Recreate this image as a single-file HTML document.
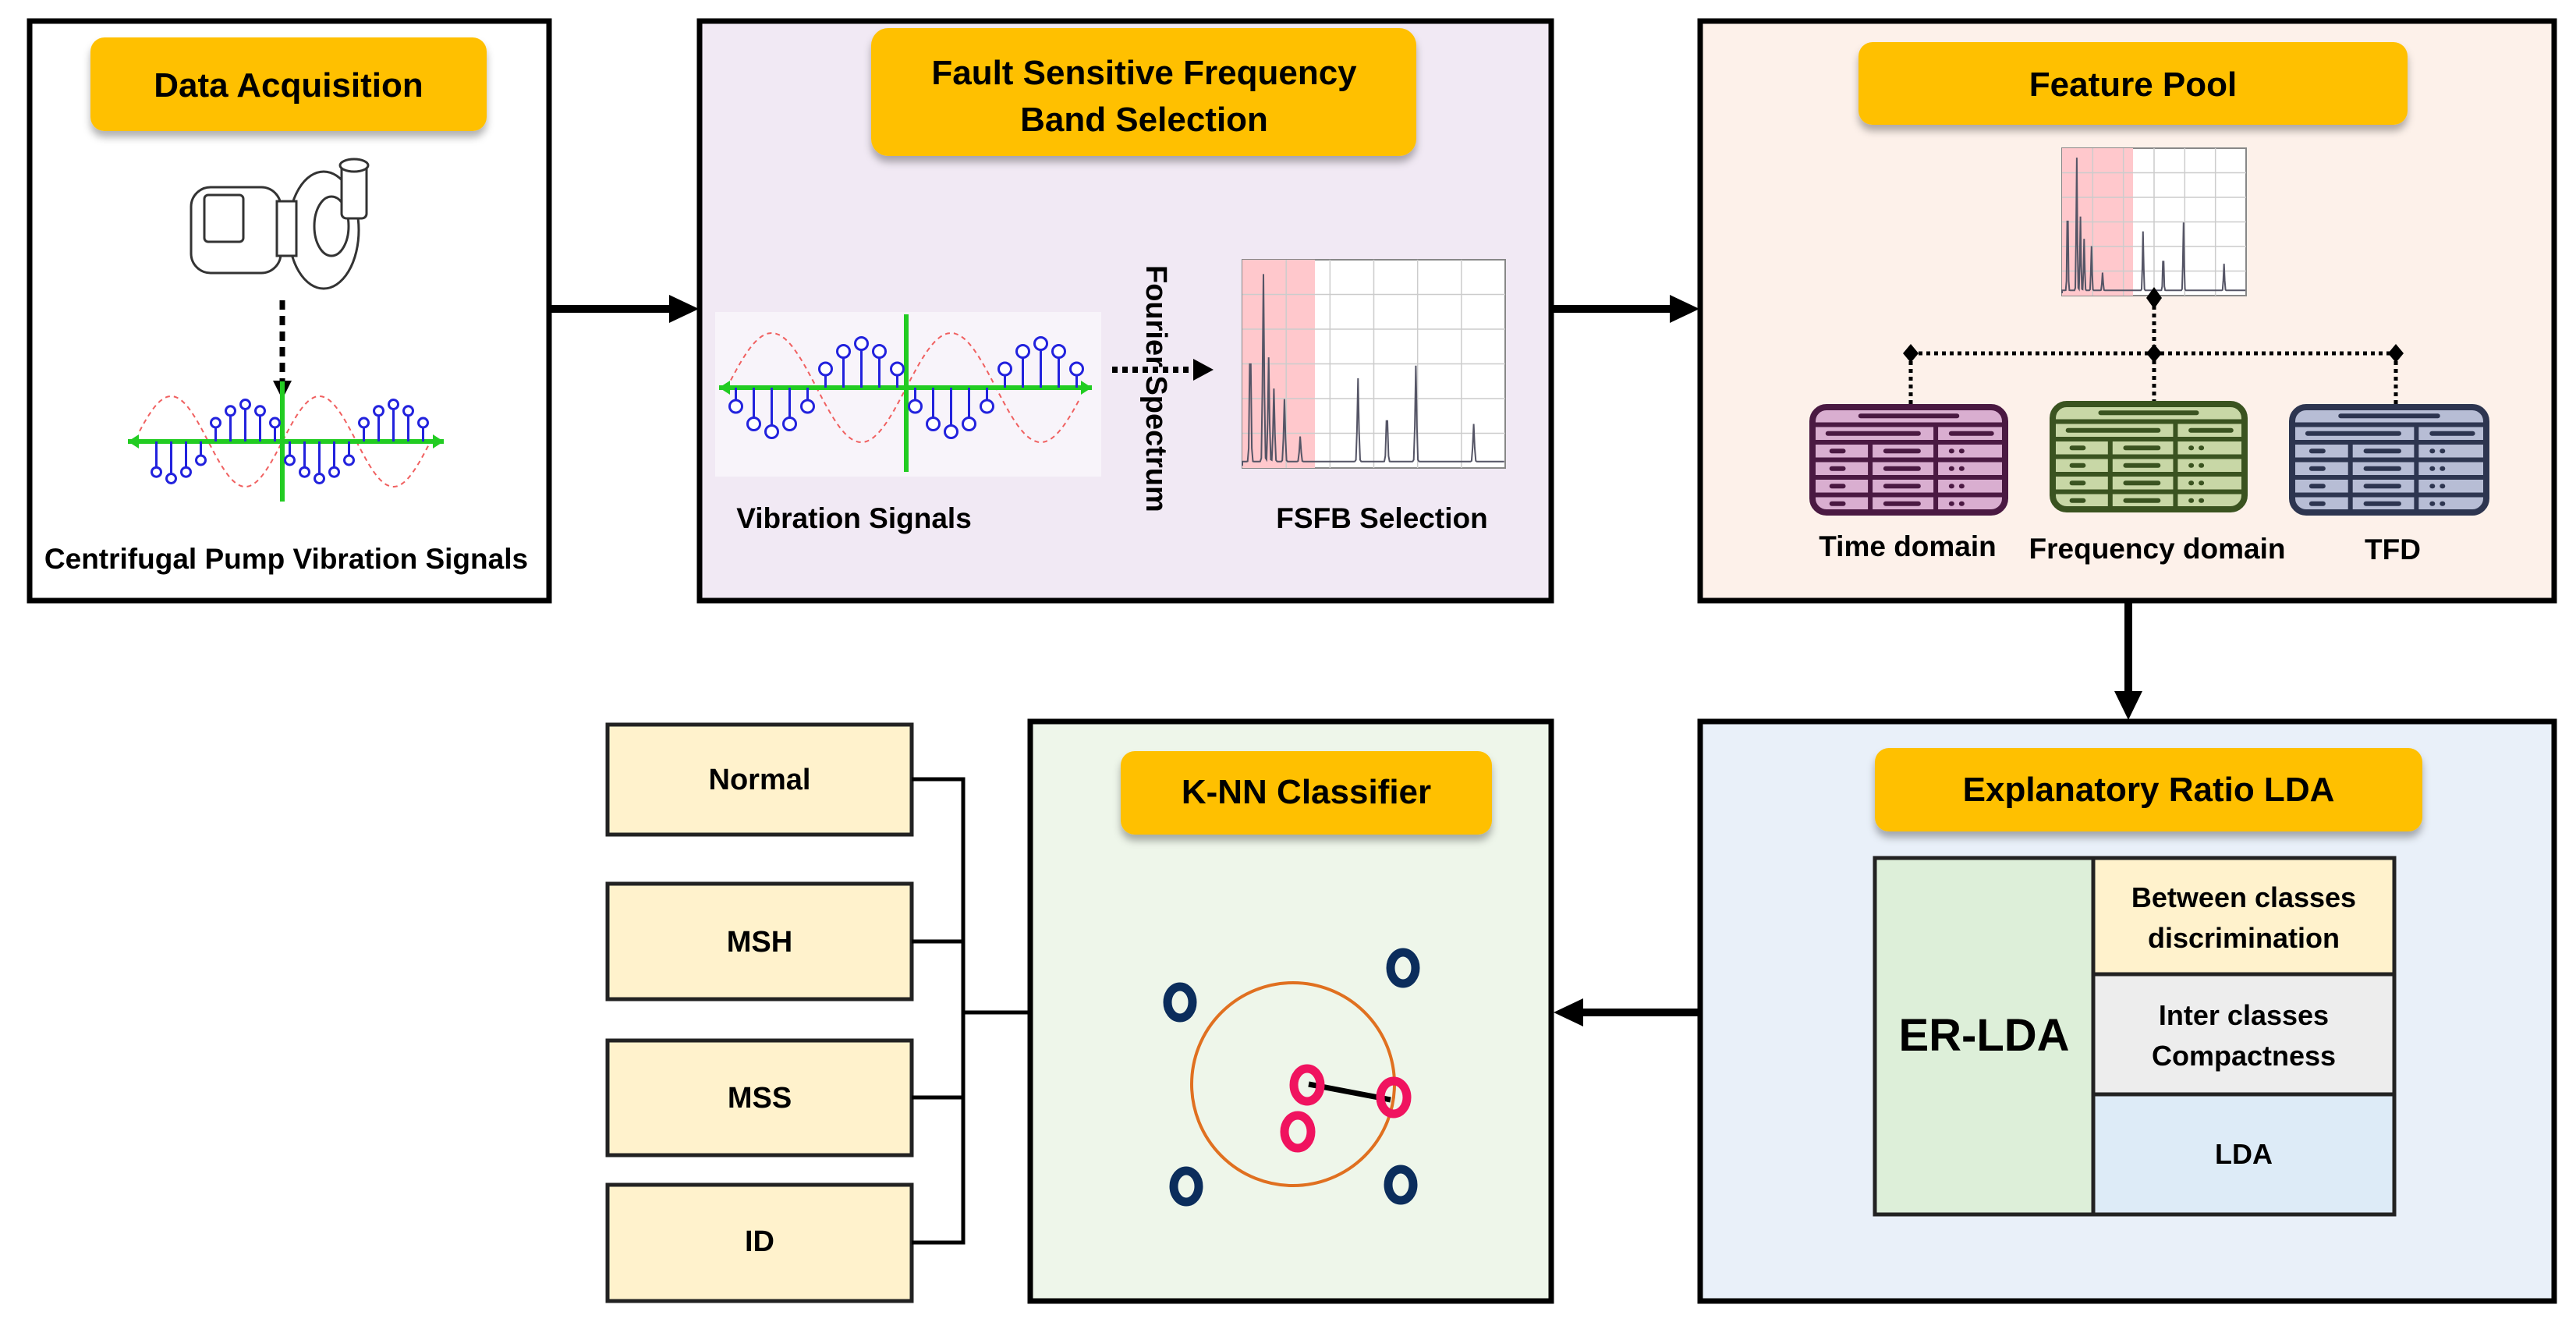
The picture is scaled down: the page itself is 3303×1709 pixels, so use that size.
<!DOCTYPE html>
<html><head><meta charset="utf-8"><style>
html,body{margin:0;padding:0;background:#fff}
svg{display:block}
text{font-family:"Liberation Sans",sans-serif;font-weight:bold;fill:#000}
</style></head><body>
<svg id="s" width="3303" height="1709" viewBox="0 0 3303 1709" xmlns="http://www.w3.org/2000/svg">
<defs>
<filter id="sh" x="-10%" y="-10%" width="120%" height="140%"><feDropShadow dx="0" dy="8" stdDeviation="5" flood-color="#000" flood-opacity="0.3"/></filter>
<marker id="ah" markerWidth="6" markerHeight="6" refX="5" refY="3" orient="auto" markerUnits="strokeWidth"><path d="M0,0 L6,3 L0,6 z" fill="#000"/></marker>
</defs>
<!-- boxes -->
<rect x="38" y="27" width="666" height="743" fill="#fff" stroke="#000" stroke-width="7"/>
<rect x="897" y="27" width="1092" height="743" fill="#f1e9f4" stroke="#000" stroke-width="7"/>
<rect x="2180" y="27" width="1095" height="743" fill="#fdf1ea" stroke="#000" stroke-width="7"/>
<rect x="2180" y="925" width="1095" height="743" fill="#e9f0f9" stroke="#000" stroke-width="7"/>
<rect x="1321" y="925" width="668" height="743" fill="#eef6ea" stroke="#000" stroke-width="7"/>
<!-- class boxes -->
<g fill="#fff2cc" stroke="#222" stroke-width="5">
<rect x="779" y="929" width="390" height="141"/>
<rect x="779" y="1133" width="390" height="148"/>
<rect x="779" y="1334" width="390" height="147"/>
<rect x="779" y="1519" width="390" height="149"/>
</g>
<g font-size="38" text-anchor="middle">
<text x="974" y="1012">Normal</text><text x="974" y="1220">MSH</text><text x="974" y="1420">MSS</text><text x="974" y="1604">ID</text>
</g>
<path d="M1169 999 H1235 V1593 H1169 M1169 1207 H1235 M1169 1407 H1235 M1235 1298 H1321" fill="none" stroke="#000" stroke-width="5"/>
<!-- arrows -->
<g stroke="#000" stroke-width="10" fill="none">
<line x1="704" y1="396" x2="860" y2="396"/>
<line x1="1989" y1="396" x2="2143" y2="396"/>
<line x1="2729" y1="770" x2="2729" y2="888"/>
<line x1="2180" y1="1298" x2="2028" y2="1298"/>
</g>
<g fill="#000">
<path d="M858 378 L896 396 L858 414 z"/>
<path d="M2141 378 L2179 396 L2141 414 z"/>
<path d="M2711 886 L2729 923 L2747 886 z"/>
<path d="M2030 1280 L1992 1298 L2030 1316 z"/>
</g>
<!-- titles -->
<g fill="#ffc000" filter="url(#sh)">
<rect x="116" y="48" width="508" height="120" rx="18"/>
<rect x="1117" y="36" width="699" height="164" rx="22"/>
<rect x="2383" y="54" width="704" height="106" rx="18"/>
<rect x="1437" y="963" width="476" height="107" rx="18"/>
<rect x="2404" y="959" width="702" height="107" rx="18"/>
</g>
<g font-size="44" text-anchor="middle">
<text x="370" y="124">Data Acquisition</text>
<text x="1467" y="108">Fault Sensitive Frequency</text>
<text x="1467" y="168">Band Selection</text>
<text x="2735" y="123">Feature Pool</text>
<text x="1675" y="1030">K-NN Classifier</text>
<text x="2755" y="1027">Explanatory Ratio LDA</text>
</g>
<!-- labels -->
<g font-size="37" text-anchor="middle">
<text x="367" y="729">Centrifugal Pump Vibration Signals</text>
<text x="1095" y="677">Vibration Signals</text>
<text x="1772" y="677">FSFB Selection</text>
<text x="2446" y="713">Time domain</text>
<text x="2766" y="716">Frequency domain</text>
<text x="3068" y="717">TFD</text>
</g>
<text font-size="38" transform="translate(1470,340) rotate(90)">Fourier Spectrum</text>
<!-- fourier dotted arrow -->
<line x1="1426" y1="474" x2="1532" y2="474" stroke="#000" stroke-width="8" stroke-dasharray="7 6"/>
<path d="M1530 460 L1556 474 L1530 488 z" fill="#000"/>
<!-- pump -->
<g fill="#fff" stroke="#333" stroke-width="3">
<rect x="245" y="240" width="115" height="110" rx="25"/>
<rect x="262" y="250" width="50" height="60" rx="5"/>
<ellipse cx="415" cy="295" rx="45" ry="75"/>
<ellipse cx="425" cy="290" rx="22" ry="38"/>
<rect x="438" y="210" width="32" height="70" rx="6"/>
<ellipse cx="454" cy="212" rx="18" ry="8"/>
<rect x="355" y="258" width="25" height="70"/>
</g>
<line x1="362" y1="385" x2="362" y2="490" stroke="#000" stroke-width="7" stroke-dasharray="12 8"/>
<path d="M350 488 L362 512 L374 488 z" fill="#000"/>
<!-- signal panels -->
<rect x="917" y="400" width="495" height="211" fill="#fff" opacity="0.5"/>
<g id="sig1"></g><g id="sig2"></g>
<!-- spectra -->
<g id="spec1"></g><g id="spec2"></g>
<!-- feature tree -->
<g stroke="#000" stroke-width="5" stroke-dasharray="5 5" fill="none">
<line x1="2762" y1="382" x2="2762" y2="529"/>
<line x1="2450" y1="453" x2="3072" y2="453"/>
<line x1="2450" y1="453" x2="2450" y2="529"/>
<line x1="3072" y1="453" x2="3072" y2="529"/>
</g>
<g fill="#000">
<path d="M2762 368l10 14-10 14-10-14z"/><path d="M2762 441l10 12-10 12-10-12z"/>
<path d="M2450 441l10 12-10 12-10-12z"/><path d="M3072 441l10 12-10 12-10-12z"/>
<path d="M2450 515l10 14-10 14-10-14z"/><path d="M2762 515l10 14-10 14-10-14z"/><path d="M3072 515l10 14-10 14-10-14z"/>
</g>
<g id="tabs"></g>
<!-- KNN -->
<ellipse cx="1658" cy="1390" rx="130" ry="130" fill="none" stroke="#e07020" stroke-width="4"/>
<line x1="1678" y1="1390" x2="1783" y2="1410" stroke="#000" stroke-width="7"/>
<g fill="none" stroke-width="11">
<ellipse cx="1513" cy="1285" rx="16" ry="20" stroke="#0b2d5c"/>
<ellipse cx="1799" cy="1241" rx="16" ry="20" stroke="#0b2d5c"/>
<ellipse cx="1521" cy="1521" rx="16" ry="20" stroke="#0b2d5c"/>
<ellipse cx="1796" cy="1519" rx="16" ry="20" stroke="#0b2d5c"/>
<ellipse cx="1676" cy="1391" rx="17" ry="21" stroke="#f0135f"/>
<ellipse cx="1787" cy="1407" rx="17" ry="21" stroke="#f0135f"/>
<ellipse cx="1664" cy="1451" rx="17" ry="21" stroke="#f0135f"/>
</g>
<!-- ER-LDA table -->
<g stroke="#222" stroke-width="5">
<rect x="2404" y="1100" width="280" height="457" fill="#ddefd9"/>
<rect x="2684" y="1100" width="386" height="149" fill="#fff2cc"/>
<rect x="2684" y="1249" width="386" height="154" fill="#ededed"/>
<rect x="2684" y="1403" width="386" height="154" fill="#ddebf7"/>
</g>
<text x="2544" y="1347" font-size="58" text-anchor="middle">ER-LDA</text>
<g font-size="36" text-anchor="middle">
<text x="2877" y="1163">Between classes</text><text x="2877" y="1215">discrimination</text>
<text x="2877" y="1314">Inter classes</text><text x="2877" y="1366">Compactness</text>
<text x="2877" y="1492">LDA</text>
</g>
</svg>
<script>
var NS="http://www.w3.org/2000/svg";
function el(p,t,a){var e=document.createElementNS(NS,t);for(var k in a)e.setAttribute(k,a[k]);p.appendChild(e);return e;}
function sig(g,x0,x1,y,cx,yt,yb,A,P,r){
  g=document.getElementById(g);
  var d="";for(var x=x0+15;x<=x1-15;x+=2){var v=y-A*Math.sin((x-cx)/P*2*Math.PI);d+=(d?"L":"M")+x+" "+v.toFixed(1);}
  el(g,"path",{d:d,fill:"none",stroke:"#f06060","stroke-width":2,"stroke-dasharray":"6 5"});
  el(g,"line",{x1:x0,y1:y,x2:x1,y2:y,stroke:"#22cc22","stroke-width":6});
  el(g,"line",{x1:cx,y1:yt,x2:cx,y2:yb,stroke:"#22cc22","stroke-width":6});
  el(g,"path",{d:"M"+x0+" "+y+"l14 -9v18z M"+x1+" "+y+"l-14 -9v18z",fill:"#22cc22"});
  for(var i=-12;i<=12;i++){var x=cx+i*P/10+P/20;if(x<x0+20||x>x1-15)continue;var v=-A*0.75*Math.sin((x-cx)/P*2*Math.PI);
    var yy=y-(v>0?Math.max(v,20):Math.min(v,-20));
    el(g,"line",{x1:x,y1:y,x2:x,y2:yy,stroke:"#2222dd","stroke-width":3});
    el(g,"circle",{cx:x,cy:yy+(v>0?-4:4),r:r,fill:"#fff",stroke:"#2222dd","stroke-width":3});}
}
sig("sig1",164,569,566,362,489,643,58,190,6);
sig("sig2",922,1400,497,1162,403,605,70,230,8);
function spec(g,x,y,w,h,pw){
  g=document.getElementById(g);
  el(g,"rect",{x:x,y:y,width:w,height:h,fill:"#fff",stroke:"#888","stroke-width":2});
  el(g,"rect",{x:x,y:y,width:pw,height:h,fill:"#ffc8cc"});
  for(var i=1;i<6;i++){el(g,"line",{x1:x+w*i/6,y1:y,x2:x+w*i/6,y2:y+h,stroke:"#ccc","stroke-width":1.5});el(g,"line",{x1:x,y1:y+h*i/6,x2:x+w,y2:y+h*i/6,stroke:"#ccc","stroke-width":1.5});}
  var pk=[[0.03,0.6],[0.08,0.9],[0.1,0.5],[0.12,0.35],[0.16,0.3],[0.22,0.12],[0.44,0.4],[0.55,0.25],[0.66,0.46],[0.88,0.18]];
  var d="M"+x+" "+(y+h-3);
  for(var t=0;t<=1;t+=0.004){var v=0.02;pk.forEach(function(p){v+=p[1]*Math.exp(-Math.pow((t-p[0])/0.004,2));});d+="L"+(x+t*w).toFixed(1)+" "+(y+h-3-v*h).toFixed(1);}
  el(g,"path",{d:d,fill:"none",stroke:"#556","stroke-width":2});
}
spec("spec1",1593,333,337,267,93);
spec("spec2",2644,190,236,189,91);
function tab(x,y,w,h,f,s){
  var g=document.getElementById("tabs");
  el(g,"rect",{x:x,y:y,width:w,height:h,rx:18,fill:f,stroke:s,"stroke-width":8});
  var rh=h/6;
  for(var i=1;i<6;i++)el(g,"line",{x1:x,y1:y+rh*i,x2:x+w,y2:y+rh*i,stroke:s,"stroke-width":6});
  el(g,"line",{x1:x+w*0.64,y1:y+rh,x2:x+w*0.64,y2:y+h,stroke:s,"stroke-width":6});
  el(g,"line",{x1:x+w*0.3,y1:y+rh*2,x2:x+w*0.3,y2:y+h,stroke:s,"stroke-width":6});
  el(g,"line",{x1:x+w*0.25,y1:y+rh*0.5,x2:x+w*0.75,y2:y+rh*0.5,stroke:s,"stroke-width":6,"stroke-linecap":"round"});
  el(g,"line",{x1:x+w*0.08,y1:y+rh*1.5,x2:x+w*0.55,y2:y+rh*1.5,stroke:s,"stroke-width":6,"stroke-linecap":"round"});
  el(g,"line",{x1:x+w*0.72,y1:y+rh*1.5,x2:x+w*0.93,y2:y+rh*1.5,stroke:s,"stroke-width":6,"stroke-linecap":"round"});
  for(var i=2;i<6;i++){el(g,"line",{x1:x+w*0.1,y1:y+rh*(i+0.5),x2:x+w*0.16,y2:y+rh*(i+0.5),stroke:s,"stroke-width":6,"stroke-linecap":"round"});
    el(g,"line",{x1:x+w*0.38,y1:y+rh*(i+0.5),x2:x+w*0.55,y2:y+rh*(i+0.5),stroke:s,"stroke-width":6,"stroke-linecap":"round"});
    el(g,"line",{x1:x+w*0.72,y1:y+rh*(i+0.5),x2:x+w*0.8,y2:y+rh*(i+0.5),stroke:s,"stroke-width":6,"stroke-linecap":"round","stroke-dasharray":"1 12"});}
}
tab(2324,522,247,135,"#d9aed0","#4a1942");
tab(2632,518,246,135,"#c8d7a6","#3a5320");
tab(2939,522,249,135,"#b7bdd5","#2d3550");
</script>
</body></html>
